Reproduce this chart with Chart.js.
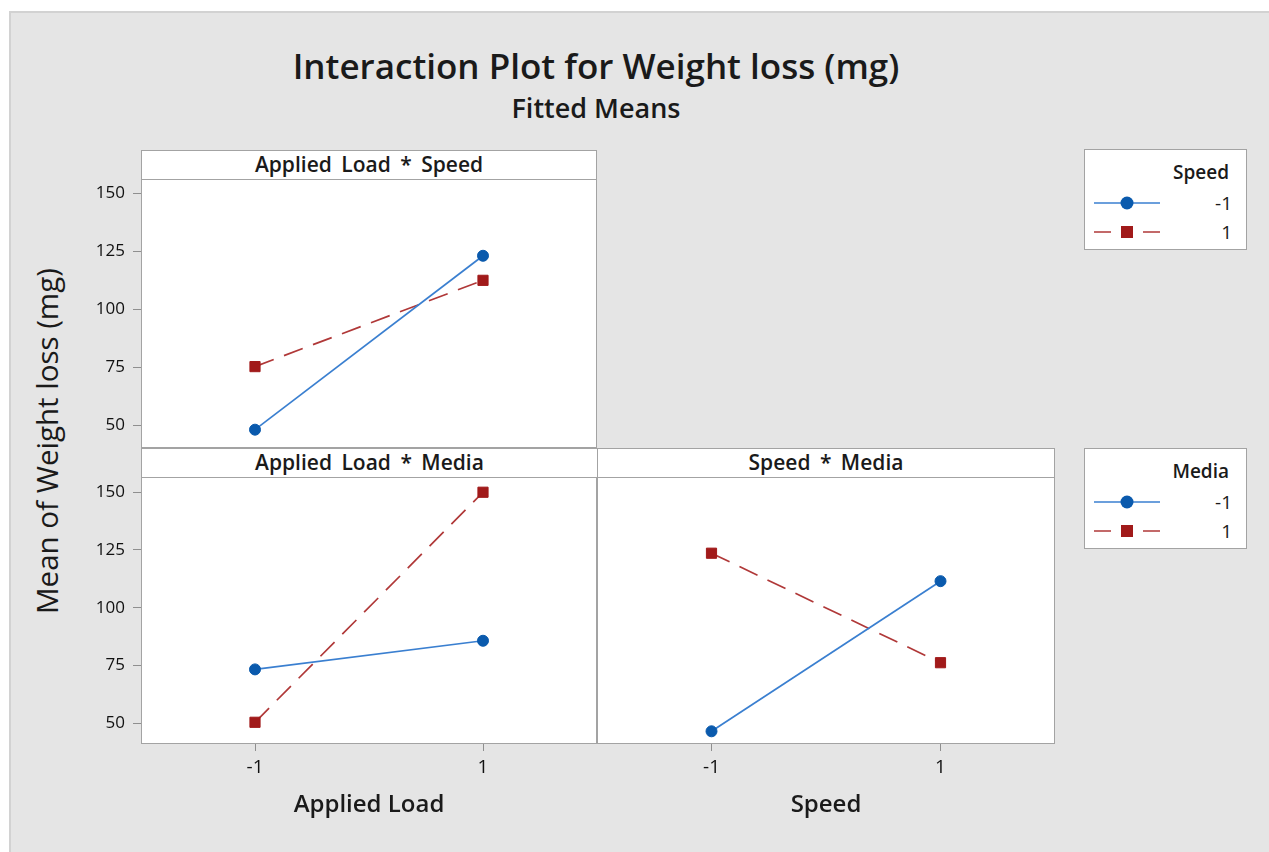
<!DOCTYPE html>
<html>
<head>
<meta charset="utf-8">
<script src="https://cdn.jsdelivr.net/npm/chart.js@4.4.1/dist/chart.umd.min.js"></script>
<style>
html,body{margin:0;padding:0;background:#fff;}
body{width:1269px;height:852px;position:relative;overflow:hidden;font-family:'Open Sans',sans-serif;color:#1a1a1a;}
#bg{position:absolute;left:9px;top:11px;width:1262px;height:843px;background:#e5e5e5;border-top:2px solid #d2d2d2;border-left:2px solid #d2d2d2;}
canvas{position:absolute;}
.abs{position:absolute;}
#title{left:0;width:1192px;top:42px;text-align:center;font-size:35px;font-weight:600;line-height:48px;white-space:nowrap;}
#subtitle{left:0;width:1192px;top:90px;text-align:center;font-size:27px;font-weight:600;line-height:36px;white-space:nowrap;}
#ytitle{left:-153px;top:423px;width:400px;height:36px;line-height:36px;text-align:center;font-size:29.5px;transform:rotate(-90deg);white-space:nowrap;}
.strip{position:absolute;height:30px;box-sizing:border-box;background:#fff;border:1px solid #a3a3a3;text-align:center;font-size:21px;font-weight:600;line-height:27px;word-spacing:4px;white-space:nowrap;z-index:3;}
.legend{position:absolute;left:1084px;width:163px;height:101px;box-sizing:border-box;background:#fff;border:1px solid #a3a3a3;}
.legend .hd{position:absolute;right:17px;top:8px;font-size:19px;font-weight:600;line-height:28px;}
.legend .row{position:absolute;left:0;width:100%;height:24px;}
.legend svg{position:absolute;left:9px;top:0;}
.legend .lab{position:absolute;right:14px;top:0;font-size:19px;line-height:24px;}
</style>
</head>
<body>
<div id="bg"></div>
<div id="title" class="abs">Interaction Plot for Weight loss (mg)</div>
<div id="subtitle" class="abs">Fitted Means</div>
<div id="ytitle" class="abs">Mean of Weight loss (mg)</div>

<canvas id="cA" width="576" height="309" style="left:41px;top:159px;"></canvas>
<canvas id="cB" width="576" height="395" style="left:41px;top:457px;"></canvas>
<canvas id="cC" width="498" height="395" style="left:577px;top:457px;"></canvas>

<div class="strip" style="left:141px;top:150px;width:456px;">Applied Load * Speed</div>
<div class="strip" style="left:141px;top:448px;width:457px;">Applied Load * Media</div>
<div class="strip" style="left:597px;top:448px;width:458px;">Speed * Media</div>

<div class="legend" style="top:149px;">
  <div class="hd">Speed</div>
  <div class="row" style="top:41px;">
    <svg width="68" height="24"><line x1="0" y1="12" x2="66" y2="12" stroke="#3a7fd0" stroke-width="1.6"/><circle cx="33" cy="12" r="6.5" fill="#0a5aad"/></svg>
    <div class="lab">-1</div>
  </div>
  <div class="row" style="top:70px;">
    <svg width="68" height="24"><line x1="0" y1="12" x2="66" y2="12" stroke="#b03838" stroke-width="1.6" stroke-dasharray="17 32"/><rect x="27" y="6" width="12" height="12" fill="#a11a1a"/></svg>
    <div class="lab">1</div>
  </div>
</div>
<div class="legend" style="top:448px;">
  <div class="hd">Media</div>
  <div class="row" style="top:41px;">
    <svg width="68" height="24"><line x1="0" y1="12" x2="66" y2="12" stroke="#3a7fd0" stroke-width="1.6"/><circle cx="33" cy="12" r="6.5" fill="#0a5aad"/></svg>
    <div class="lab">-1</div>
  </div>
  <div class="row" style="top:70px;">
    <svg width="68" height="24"><line x1="0" y1="12" x2="66" y2="12" stroke="#b03838" stroke-width="1.6" stroke-dasharray="17 32"/><rect x="27" y="6" width="12" height="12" fill="#a11a1a"/></svg>
    <div class="lab">1</div>
  </div>
</div>

<script>
// ---- data ----
const xLevels = [-1, 1];
const xTickLabels = ['-1', '1'];
const yTicks = [50, 75, 100, 125, 150];
const yTickLabels = ['50', '75', '100', '125', '150'];
const levelNames = ['-1', '1'];
// Applied Load * Speed
const loadBySpeedLow  = [48.1, 123.1];  // Speed = -1
const loadBySpeedHigh = [75.3, 112.5];  // Speed = 1
// Applied Load * Media
const loadByMediaLow  = [73.3, 85.7];   // Media = -1
const loadByMediaHigh = [50.4, 150.0];  // Media = 1
// Speed * Media
const speedByMediaLow  = [46.5, 111.5]; // Media = -1
const speedByMediaHigh = [123.6, 76.2]; // Media = 1

// ---- style ----
const FONT = 'Open Sans';
const blueLine = '#3a7fd0', blueMark = '#0a5aad';
const redLine = '#b03838', redMark = '#a11a1a';
const frameColor = '#a3a3a3';

const framePlugin = {
  id: 'frame',
  beforeDraw(chart) {
    const a = chart.chartArea, ctx = chart.ctx;
    ctx.save();
    ctx.fillStyle = '#ffffff';
    ctx.fillRect(a.left, a.top, a.right - a.left, a.bottom - a.top);
    ctx.restore();
  },
  afterDraw(chart) {
    const a = chart.chartArea, ctx = chart.ctx;
    ctx.save();
    ctx.strokeStyle = frameColor;
    ctx.lineWidth = 1;
    ctx.strokeRect(Math.round(a.left) + 0.5, Math.round(a.top) + 0.5,
                   Math.round(a.right - a.left) - 1, Math.round(a.bottom - a.top) - 1);
    ctx.restore();
  }
};

function pts(vals) { return xLevels.map((x, i) => ({ x: x, y: vals[i] })); }

function makeChart(id, low, high, yMin, yMax, showX, showY, xTitle, pad) {
  return new Chart(document.getElementById(id), {
    type: 'line',
    data: {
      datasets: [
        { label: levelNames[0], data: pts(low), borderColor: blueLine, borderWidth: 1.7,
          pointStyle: 'circle', pointRadius: 5.5, pointBackgroundColor: blueMark,
          pointBorderColor: blueMark, pointBorderWidth: 1 },
        { label: levelNames[1], data: pts(high), borderColor: redLine, borderWidth: 1.7,
          borderDash: [20, 11], pointStyle: 'rect', pointRadius: 7.2,
          pointBackgroundColor: redMark, pointBorderColor: redMark, pointBorderWidth: 1 }
      ]
    },
    options: {
      responsive: false, animation: false, devicePixelRatio: 1,
      layout: { autoPadding: false, padding: pad },
      plugins: { legend: { display: false }, tooltip: { enabled: false } },
      scales: {
        x: {
          type: 'linear', min: -2, max: 2, display: showX,
          afterBuildTicks: s => { s.ticks = xLevels.map(v => ({ value: v })); },
          afterFit: s => { s.height = showX ? 108 : 0; },
          grid: { drawOnChartArea: false, drawTicks: true, tickLength: 7, color: '#8f8f8f' },
          border: { display: false },
          ticks: { padding: 5, color: '#111111', font: { family: FONT, size: 19 },
                   maxRotation: 0, callback: (v, i) => xTickLabels[i] },
          title: { display: true, text: xTitle, color: '#1a1a1a',
                   font: { family: FONT, size: 24, weight: '600' }, padding: { top: 0, bottom: 32 } }
        },
        y: {
          type: 'linear', min: yMin, max: yMax, display: showY,
          afterBuildTicks: s => { s.ticks = yTicks.map(v => ({ value: v })); },
          afterFit: s => { s.width = showY ? 100 : 0; },
          grid: { drawOnChartArea: false, drawTicks: true, tickLength: 8, color: '#8f8f8f' },
          border: { display: false },
          ticks: { padding: 8, color: '#111111', font: { family: FONT, size: 17 },
                   callback: (v, i) => yTickLabels[i] }
        }
      }
    },
    plugins: [framePlugin]
  });
}

makeChart('cA', loadBySpeedLow, loadBySpeedHigh, 40.2, 156.2, false, true, '', { top: 20, bottom: 20, left: 0, right: 20 });
makeChart('cB', loadByMediaLow, loadByMediaHigh, 41.0, 156.6, true, true, 'Applied Load', { top: 20, bottom: 0, left: 0, right: 20 });
makeChart('cC', speedByMediaLow, speedByMediaHigh, 41.0, 156.6, true, false, 'Speed', { top: 20, bottom: 0, left: 20, right: 20 });
</script>
</body>
</html>
